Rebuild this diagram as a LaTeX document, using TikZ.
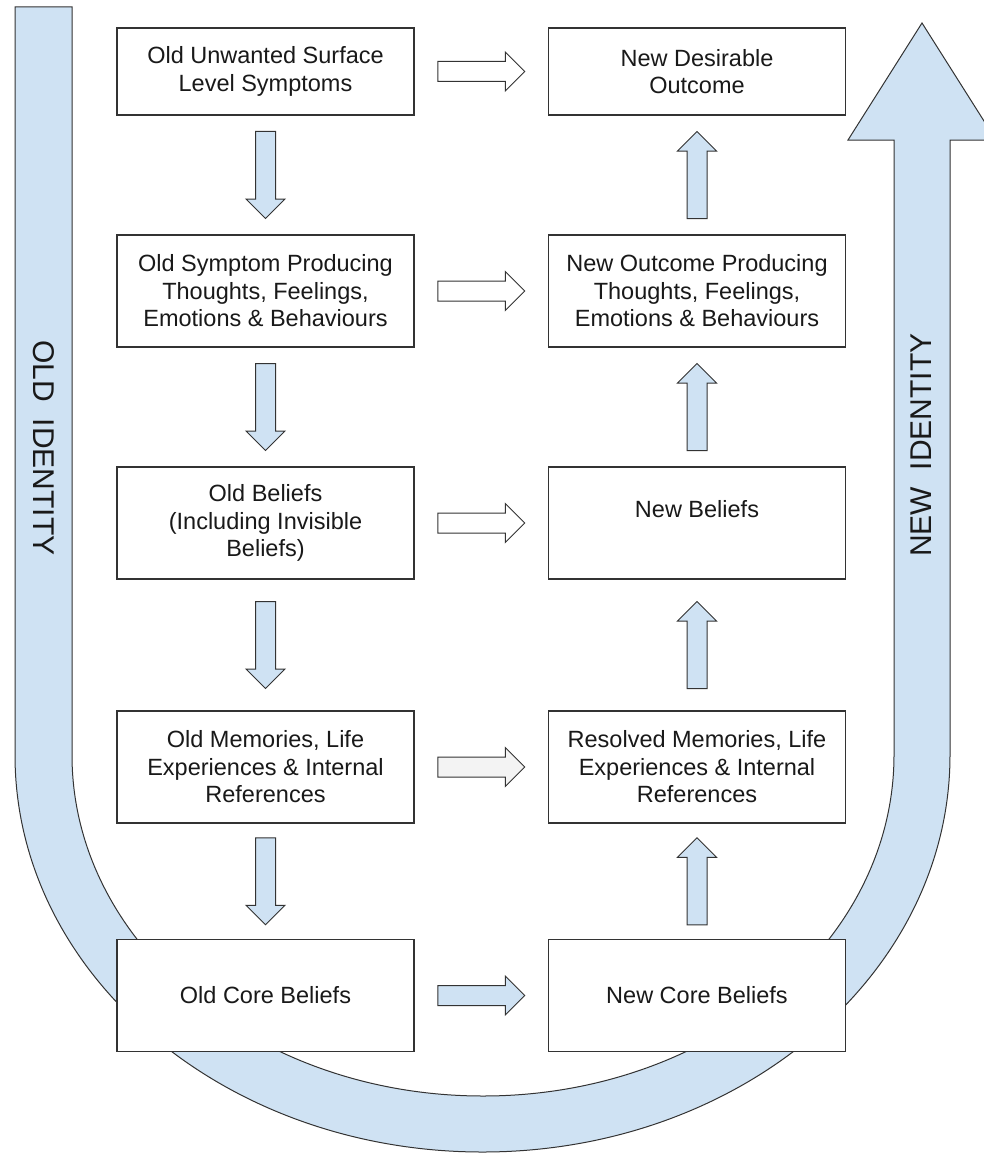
\documentclass[tikz,border=0pt]{standalone}
\usepackage{fontspec}
\setmainfont{Liberation Sans}
\usetikzlibrary{calc}
\definecolor{ltblue}{HTML}{CFE2F3}
\definecolor{ltgray}{HTML}{F3F3F3}
\definecolor{edge}{HTML}{333333}
\begin{document}
\begin{tikzpicture}[x=1pt,y=-1pt]
\tikzstyle{every node}=[font=\fontsize{23.5}{27.5}\selectfont,text=black!90,align=center];
\tikzstyle{box}=[draw=edge,line width=1.3pt,fill=white,minimum width=297pt,minimum height=112pt,inner sep=0pt];
\tikzstyle{band}=[draw=edge,line width=1pt,fill=ltblue];
\tikzstyle{arr}=[draw=edge,line width=1pt,line join=miter];
\tikzstyle{side}=[font=\fontsize{30}{36}\selectfont];
\tikzstyle{blk}=[to path={
  ($(\tikztostart)!0.5!(\tikztotarget)$) coordinate (m)
  ($(m)!43.5pt!(\tikztotarget)$) coordinate (t)
  ($(t)!87pt!(m)$) coordinate (b)
  ($(t)!19.5pt!(m)$) coordinate (h)
  ($(b)!10pt!90:(t)$) -- ($(h)!10pt!90:(t)$) -- ($(h)!19.5pt!90:(t)$) -- (t)
  -- ($(h)!19.5pt!-90:(t)$) -- ($(h)!10pt!-90:(t)$) -- ($(b)!10pt!-90:(t)$) -- cycle}];
\useasboundingbox (0,0) rectangle (984,1153);
% identity band
\draw[band] (15,7) -- (15,755)
  arc[start angle=180,end angle=360,x radius=467.5pt,y radius=397pt]
  -- (950,140) -- (996,140) -- (922,23) -- (848,140) -- (894,140) -- (894,755)
  arc[start angle=0,end angle=-180,x radius=411pt,y radius=341pt]
  -- (72,7) -- cycle;
\node[side,rotate=-90] (old) at (43.5,448) {OLD~~IDENTITY};
\node[side,rotate=90] (new) at (921,445) {NEW~~IDENTITY};
\node[box,minimum height=87pt] (o1) at (265.5,71.5) {Old Unwanted Surface\\Level Symptoms};
\node[box] (o2) at (265.5,291) {Old Symptom Producing\\Thoughts, Feelings,\\Emotions \& Behaviours};
\node[box] (o3) at (265.5,523) {Old Beliefs\\(Including Invisible\\Beliefs)};
\node[box] (o4) at (265.5,767) {Old Memories, Life\\Experiences \& Internal\\References};
\node[box] (o5) at (265.5,995.5) {Old Core Beliefs};
\node[box,minimum height=87pt] (n1) at (697,71.5) {New Desirable\\Outcome};
\node[box] (n2) at (697,291) {New Outcome Producing\\Thoughts, Feelings,\\Emotions \& Behaviours};
\node[box] (n3) at (697,523) {New Beliefs\\~};
\node[box] (n4) at (697,767) {Resolved Memories, Life\\Experiences \& Internal\\References};
\node[box] (n5) at (697,995.5) {New Core Beliefs};
\draw[arr,fill=ltblue] (o1.south) to[blk] (o2.north)
(o2.south) to[blk] (o3.north)
(o3.south) to[blk] (o4.north)
(o4.south) to[blk] (o5.north)
(n5.north) to[blk] (n4.south)
(n4.north) to[blk] (n3.south)
(n3.north) to[blk] (n2.south)
(n2.north) to[blk] (n1.south)
(o5.east) to[blk] (n5.west);
\draw[arr,fill=white] (o1.east) to[blk] (n1.west)
(o2.east) to[blk] (n2.west)
(o3.east) to[blk] (n3.west);
\draw[arr,fill=ltgray] (o4.east) to[blk] (n4.west);
\end{tikzpicture}
\end{document}
